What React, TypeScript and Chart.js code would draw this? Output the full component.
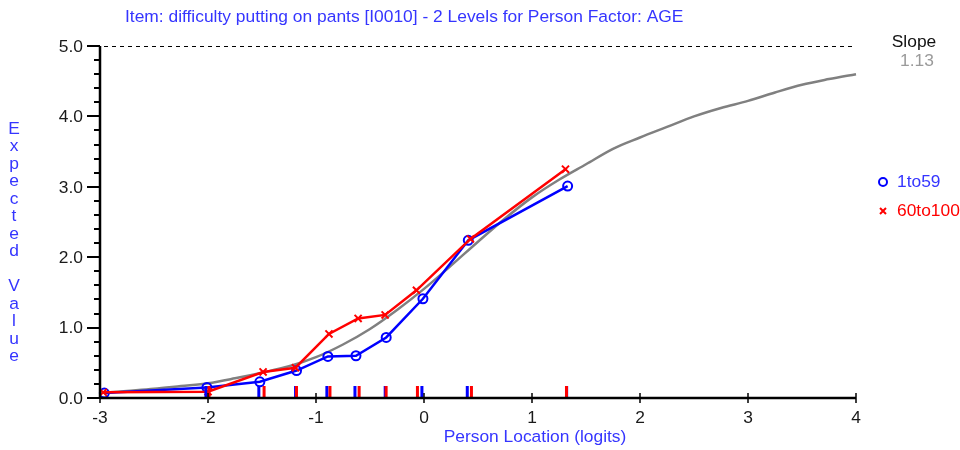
import React, { useEffect, useRef } from "react";
import { Chart, registerables } from "chart.js";
Chart.register(...registerables);

const titleText = "Item: difficulty putting on pants [I0010] - 2 Levels for Person Factor: AGE";
const xAxisTitle = "Person Location (logits)";
const yAxisTitle = "Expected Value";
const xTicks = [-3, -2, -1, 0, 1, 2, 3, 4];
const yTicks = [0, 1, 2, 3, 4, 5];
const yMinorTicks = [0.2, 0.4, 0.6, 0.8, 1.2, 1.4, 1.6, 1.8, 2.2, 2.4, 2.6, 2.8, 3.2, 3.4, 3.6, 3.8, 4.2, 4.4, 4.6, 4.8];

const curveX = [-3, -2.75, -2.5, -2.25, -2, -1.75, -1.5, -1.25, -1, -0.75, -0.5, -0.25, 0, 0.25, 0.5, 0.75, 1, 1.25, 1.5, 1.75, 2, 2.25, 2.5, 2.75, 3, 3.25, 3.5, 3.75, 4];
const curveY = [0.07, 0.1, 0.13, 0.17, 0.21, 0.28, 0.36, 0.45, 0.58, 0.76, 0.98, 1.25, 1.55, 1.88, 2.22, 2.55, 2.85, 3.1, 3.32, 3.54, 3.7, 3.85, 4.0, 4.12, 4.22, 4.34, 4.45, 4.53, 4.6];

const blueX = [-2.96, -2.01, -1.52, -1.18, -0.89, -0.63, -0.35, -0.01, 0.41, 1.33];
const blueY = [0.07, 0.15, 0.23, 0.39, 0.59, 0.6, 0.86, 1.41, 2.24, 3.01];
const redX = [-2.97, -2.0, -1.49, -1.19, -0.88, -0.61, -0.36, -0.07, 0.43, 1.31];
const redY = [0.08, 0.09, 0.37, 0.43, 0.91, 1.13, 1.18, 1.53, 2.26, 3.25];

const legendLabels = ["1to59", "60to100"];
const slopeLabel = "Slope";
const slopeValue = "1.13";

const BLUE = "#0000ff";
const RED = "#ff0000";
const GRAY = "#808080";
const TEXTBLUE = "#3535ff";
const FONT = "17.4px 'Liberation Sans', Arial, sans-serif";

const drawPlugin = {
  id: "customDraw",
  afterDraw(chart: any) {
    const { ctx, chartArea } = chart;
    const xs = chart.scales.x;
    const ys = chart.scales.y;
    const left = chartArea.left;
    const right = chartArea.right;
    const bottom = ys.getPixelForValue(0);
    ctx.save();

    // dashed line at top value
    const ptop = ys.getPixelForValue(yTicks[yTicks.length - 1]);
    ctx.strokeStyle = "#000";
    ctx.lineWidth = 1;
    ctx.setLineDash([4, 4]);
    ctx.beginPath();
    ctx.moveTo(left + 4, ptop + 0.5);
    ctx.lineTo(right, ptop + 0.5);
    ctx.stroke();
    ctx.setLineDash([]);

    // person location bars
    const drawBars = (arr: number[], color: string, off: number) => {
      ctx.fillStyle = color;
      arr.forEach((v) => {
        const px = xs.getPixelForValue(v);
        if (px > left + 5) ctx.fillRect(px - 1.5 + off, bottom - 12, 3, 12);
      });
    };
    drawBars(blueX, BLUE, -1);
    drawBars(redX, RED, 1);

    // y axis
    ctx.strokeStyle = "#000";
    ctx.lineWidth = 2.5;
    ctx.beginPath();
    ctx.moveTo(left, ptop);
    ctx.lineTo(left, bottom + 1);
    ctx.stroke();
    ctx.lineWidth = 2;
    yTicks.forEach((v) => {
      const py = Math.round(ys.getPixelForValue(v));
      ctx.beginPath();
      ctx.moveTo(left - 13, py);
      ctx.lineTo(left, py);
      ctx.stroke();
    });
    yMinorTicks.forEach((v) => {
      const py = Math.round(ys.getPixelForValue(v));
      ctx.beginPath();
      ctx.moveTo(left - 6, py);
      ctx.lineTo(left, py);
      ctx.stroke();
    });

    // x axis
    ctx.lineWidth = 2.5;
    ctx.beginPath();
    ctx.moveTo(left, bottom);
    ctx.lineTo(right, bottom);
    ctx.stroke();
    ctx.lineWidth = 1.5;
    xTicks.forEach((v) => {
      const px = Math.round(xs.getPixelForValue(v));
      ctx.beginPath();
      ctx.moveTo(px, v === xTicks[0] ? bottom : bottom - 5);
      ctx.lineTo(px, bottom + 5);
      ctx.stroke();
    });

    // tick labels
    ctx.font = FONT;
    ctx.fillStyle = "#1a1a1a";
    ctx.textAlign = "right";
    ctx.textBaseline = "middle";
    yTicks.forEach((v) => {
      ctx.fillText(v.toFixed(1), left - 17, ys.getPixelForValue(v) + 1);
    });
    ctx.textAlign = "center";
    ctx.textBaseline = "top";
    xTicks.forEach((v) => {
      ctx.fillText(String(v), xs.getPixelForValue(v), bottom + 11);
    });

    // titles
    ctx.fillStyle = TEXTBLUE;
    ctx.textAlign = "left";
    ctx.textBaseline = "middle";
    ctx.fillText(titleText, 125, 17);
    ctx.textAlign = "center";
    ctx.fillText(xAxisTitle, 535, 437);
    const letters = yAxisTitle.split("");
    letters.forEach((ch, i) => {
      ctx.fillText(ch, 14, 129 + i * 17.5);
    });

    // legend
    ctx.strokeStyle = BLUE;
    ctx.lineWidth = 2;
    ctx.beginPath();
    ctx.arc(883, 182, 4, 0, Math.PI * 2);
    ctx.stroke();
    ctx.strokeStyle = RED;
    ctx.beginPath();
    ctx.moveTo(880, 208);
    ctx.lineTo(886, 214);
    ctx.moveTo(886, 208);
    ctx.lineTo(880, 214);
    ctx.stroke();
    ctx.textAlign = "left";
    ctx.fillStyle = TEXTBLUE;
    ctx.fillText(legendLabels[0], 897, 182);
    ctx.fillStyle = RED;
    ctx.fillText(legendLabels[1], 897, 211);

    ctx.textAlign = "center";
    ctx.fillStyle = "#111";
    ctx.fillText(slopeLabel, 914, 42);
    ctx.fillStyle = "#9a9a9a";
    ctx.fillText(slopeValue, 917, 61);

    ctx.restore();
  },
};

export default function App() {
  const ref = useRef<HTMLCanvasElement>(null);
  useEffect(() => {
    document.body.style.margin = "0";
    const canvas = ref.current!;
    const chart = new Chart(canvas, {
      type: "scatter",
      data: {
        datasets: [
          {
            label: legendLabels[1],
            data: redX.map((x, i) => ({ x, y: redY[i] })),
            showLine: true,
            borderColor: RED,
            backgroundColor: RED,
            borderWidth: 2.5,
            pointStyle: "crossRot",
            pointRadius: 5,
            pointBorderWidth: 2,
            clip: false,
            order: 1,
          },
          {
            label: legendLabels[0],
            data: blueX.map((x, i) => ({ x, y: blueY[i] })),
            showLine: true,
            borderColor: BLUE,
            backgroundColor: "rgba(0,0,0,0)",
            borderWidth: 2.5,
            pointStyle: "circle",
            pointRadius: 4.5,
            pointBorderWidth: 2,
            clip: false,
            order: 2,
          },
          {
            label: "model",
            data: curveX.map((x, i) => ({ x, y: curveY[i] })),
            showLine: true,
            borderColor: GRAY,
            borderWidth: 2.5,
            pointRadius: 0,
            cubicInterpolationMode: "monotone",
            clip: false,
            order: 3,
          },
        ],
      },
      options: {
        responsive: false,
        maintainAspectRatio: false,
        animation: false,
        layout: { padding: { left: 100, right: 104, top: 46, bottom: 52 } },
        plugins: { legend: { display: false }, tooltip: { enabled: false }, title: { display: false } },
        scales: {
          x: { type: "linear", min: -3, max: 4, display: false },
          y: { type: "linear", min: 0, max: 5, display: false },
        },
      },
      plugins: [drawPlugin],
    } as any);
    return () => chart.destroy();
  }, []);
  return <canvas ref={ref} width={960} height={450} style={{ display: "block" }} />;
}
